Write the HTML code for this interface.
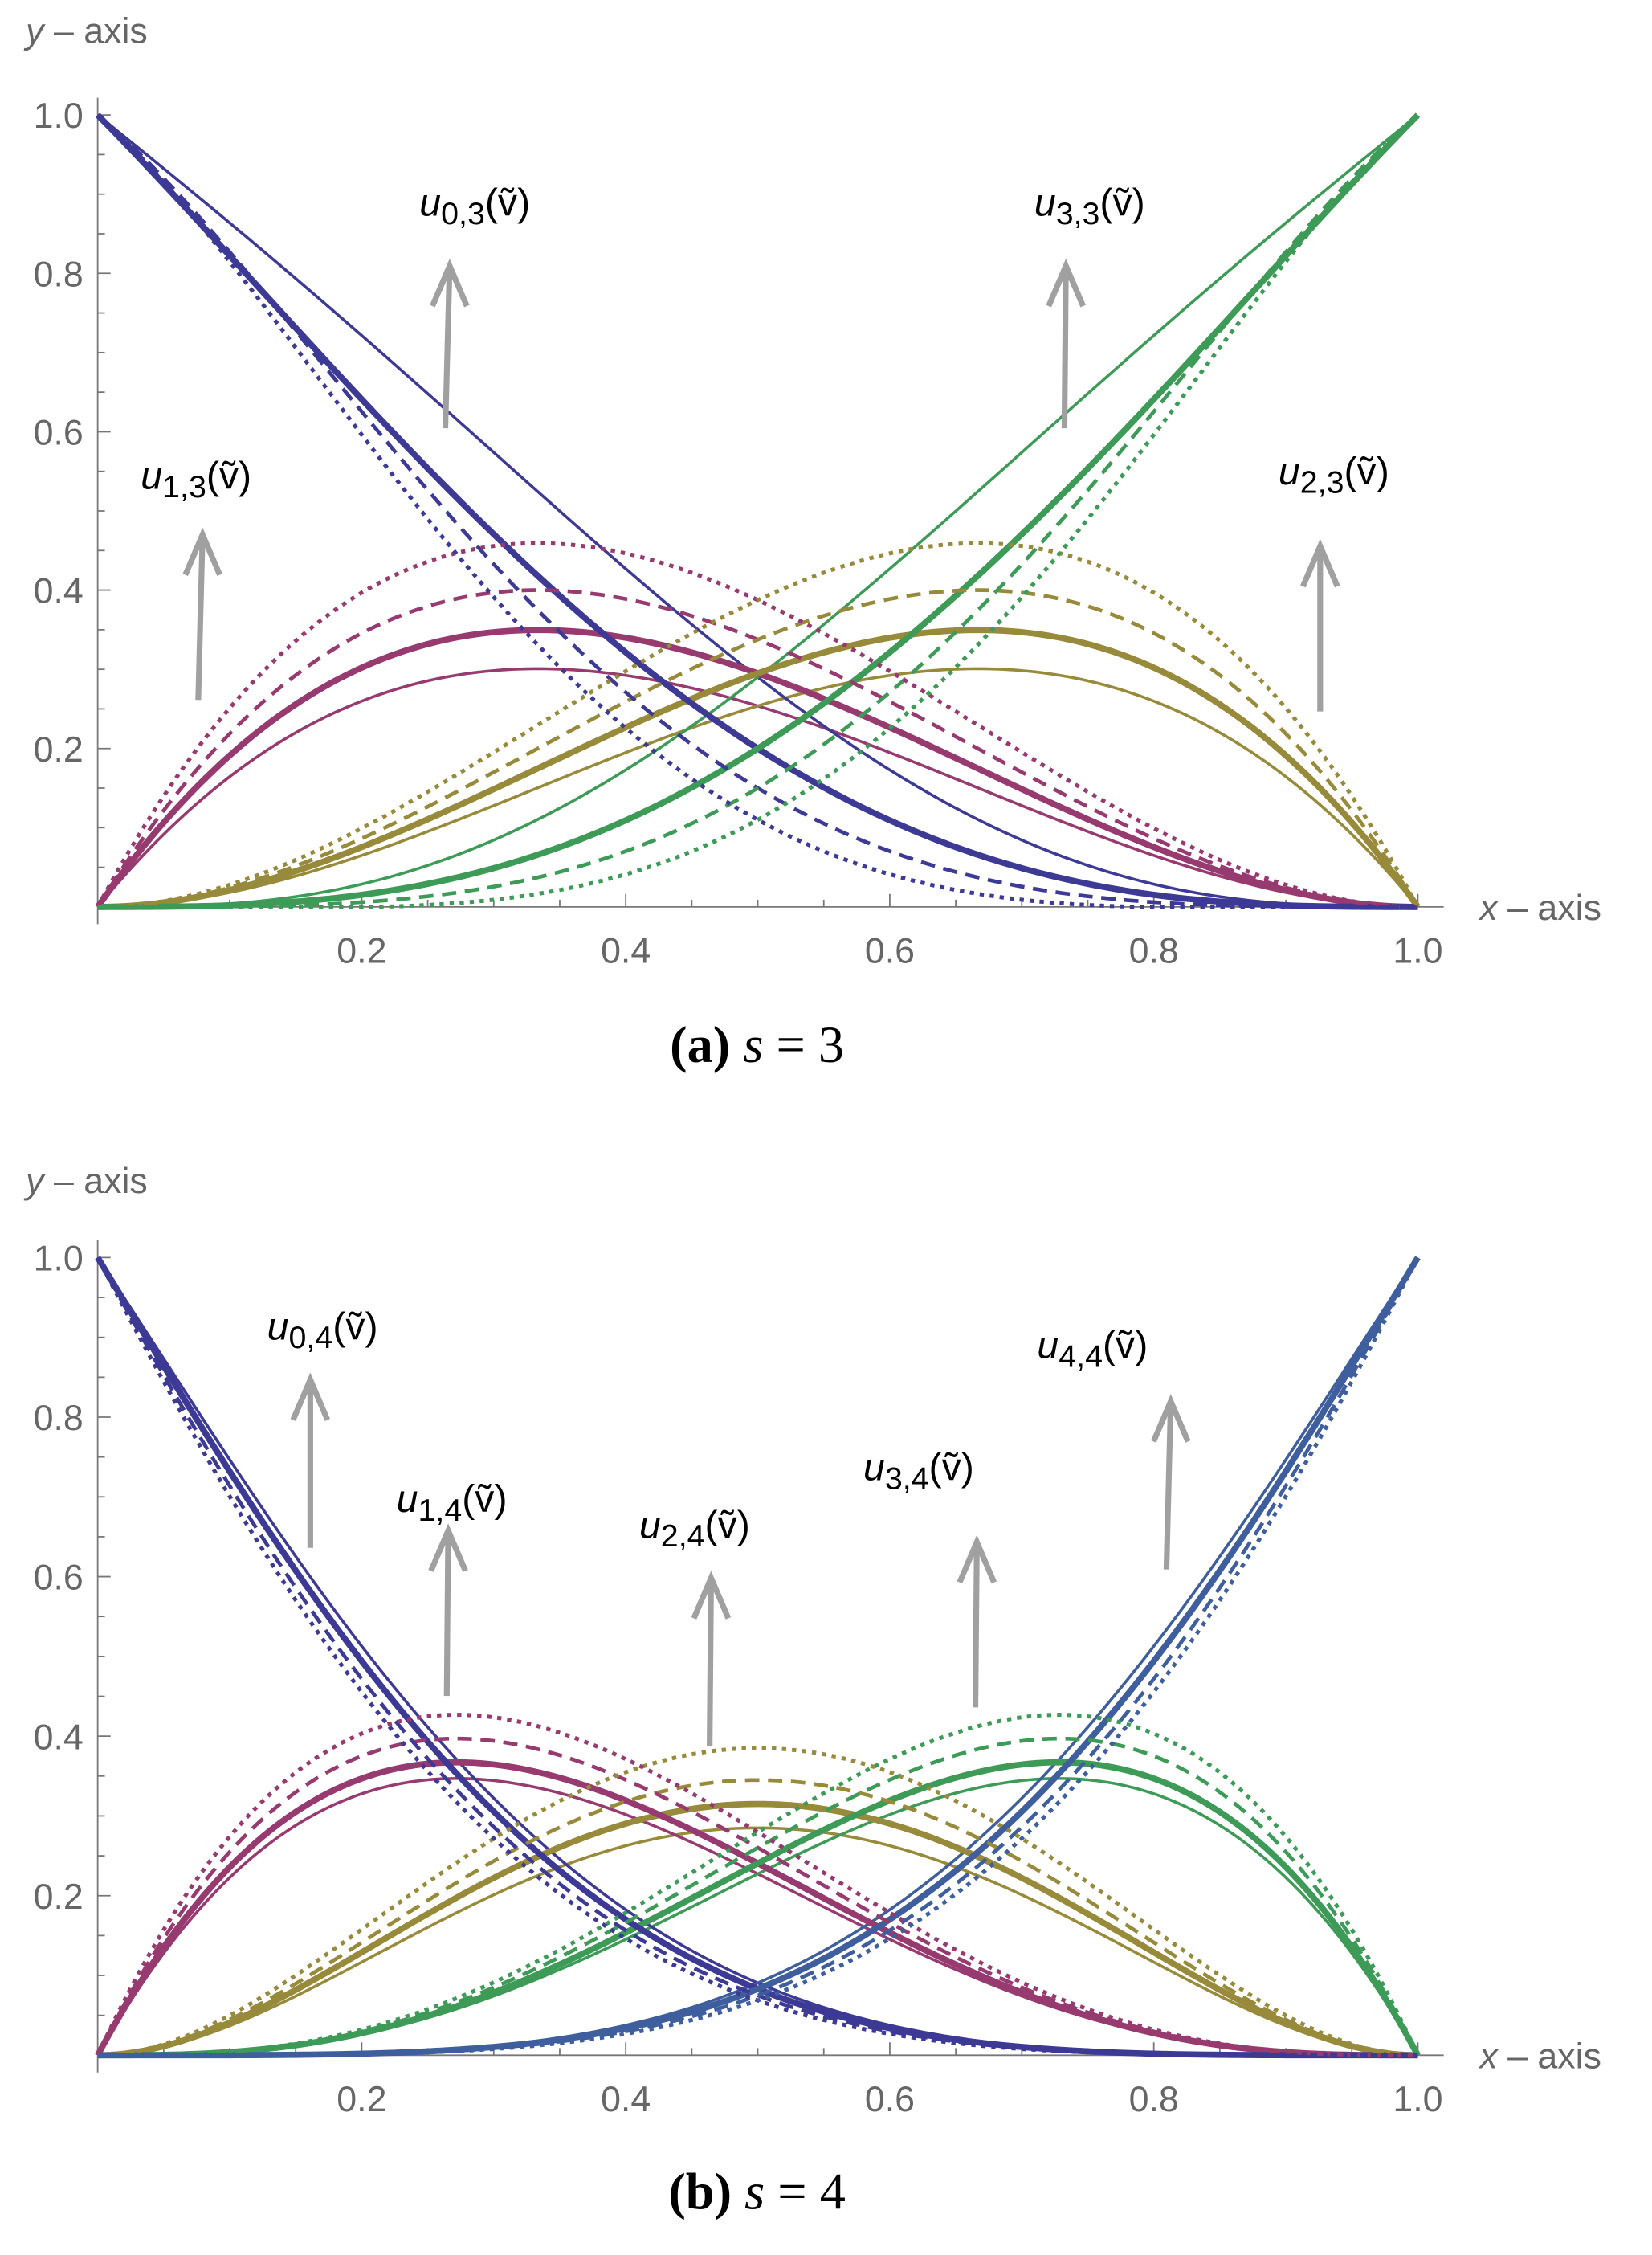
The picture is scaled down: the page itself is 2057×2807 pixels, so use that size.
<!DOCTYPE html>
<html><head><meta charset="utf-8"><style>
html,body{margin:0;padding:0;background:#fff;}
svg{display:block;}
.tl{font-family:"Liberation Sans",sans-serif;font-size:25px;fill:#666;}
.an{font-family:"Liberation Sans",sans-serif;font-size:27px;fill:#000;}
.cap{font-family:"Liberation Serif",serif;font-size:36px;fill:#000;}
</style></head><body>
<svg id="s" width="2057" height="2807" viewBox="0 0 1150 1569" preserveAspectRatio="none" xmlns="http://www.w3.org/2000/svg">
<g id="g"></g>
<text class="tl" x="18" y="30"><tspan font-style="italic">y</tspan> – axis</text>
<text class="tl" x="1030" y="640"><tspan font-style="italic">x</tspan> – axis</text>
<text class="tl" x="18" y="830"><tspan font-style="italic">y</tspan> – axis</text>
<text class="tl" x="1030" y="1439"><tspan font-style="italic">x</tspan> – axis</text>
<text class="cap" x="527" y="739" text-anchor="middle"><tspan font-weight="bold">(a)</tspan> <tspan font-style="italic">s</tspan> = 3</text>
<text class="cap" x="527" y="1537" text-anchor="middle"><tspan font-weight="bold">(b)</tspan> <tspan font-style="italic">s</tspan> = 4</text>
</svg>
<script>
var g=document.getElementById('g'),NS='http://www.w3.org/2000/svg';
function el(t,a,txt){var e=document.createElementNS(NS,t);for(var k in a)e.setAttribute(k,a[k]);if(txt!==undefined)e.textContent=txt;g.appendChild(e);return e;}
var X0=68,X1=987;
function axes(Y0,Y1){
 el('line',{x1:X0,y1:Y0,x2:1005,y2:Y0,stroke:'#777','stroke-width':1});
 el('line',{x1:X0,y1:Y0+12,x2:X0,y2:Y1-12,stroke:'#777','stroke-width':1});
 for(var i=1;i<=20;i++){var x=X0+(X1-X0)*i/20,L=(i%4==0)?9:5;el('line',{x1:x,y1:Y0,x2:x,y2:Y0-L,stroke:'#777','stroke-width':1});}
 for(var i=1;i<=20;i++){var y=Y0-(Y0-Y1)*i/20,L=(i%4==0)?9:5;el('line',{x1:X0,y1:y,x2:X0+L,y2:y,stroke:'#777','stroke-width':1});}
 for(var i=1;i<=5;i++){var v=(i*0.2).toFixed(1);
  el('text',{'class':'tl',x:X0+(X1-X0)*i/5,y:Y0+39,'text-anchor':'middle'},v);
  el('text',{'class':'tl',x:58,y:Y0-(Y0-Y1)*i/5+9,'text-anchor':'end'},v);}
}
var styles=[{w:2,d:''},{w:4.3,d:''},{w:2.6,d:'10 6'},{w:2.8,d:'3 4'}];
function curve(f,Y0,Y1,col,st){
 var p='';for(var i=0;i<=200;i++){var x=i/200,y=Math.max(0,f(x));p+=(i?'L':'M')+(X0+(X1-X0)*x).toFixed(2)+' '+(Y0-(Y0-Y1)*y).toFixed(2);}
 el('path',{d:p,fill:'none',stroke:col,'stroke-width':st.w,'stroke-dasharray':st.d});
}
function arrow(x1,y1,x2,y2){
 el('line',{x1:x1,y1:y1,x2:x2,y2:y2,stroke:'#a0a0a0','stroke-width':4});
 el('polyline',{points:(x2-12)+','+(y2+28)+' '+x2+','+y2+' '+(x2+12)+','+(y2+28),fill:'none',stroke:'#a0a0a0','stroke-width':4});
}
function lab(x,y,i,s){el('text',{'class':'an',x:x,y:y},'').innerHTML='<tspan font-style="italic">u</tspan><tspan font-size="22" dy="6">'+i+','+s+'</tspan><tspan dy="-6">(ṽ)</tspan>';}
var B='#3d3a96',M='#973a6f',O='#978a3a',G='#3d9a57',SB='#3e5e9e';
// top
var T0=631,T1=80;axes(T0,T1);
var c3=[[1.65,1.98],[1.3,-0.2],[1.58,-2.36],[1.53,-3.54]],k1=[2.03,2.36,2.7,3.1];
function u0t(c,d){return function(x){var t=1-x;return t*t*t*(1+c*x+d*x*x);};}
for(var j=0;j<4;j++){(function(c,k,st){
 curve(function(x){return x*k*(1-x)*(1-x);},T0,T1,M,st);
 curve(function(x){var t=1-x;return t*k*x*x;},T0,T1,O,st);
 var f=u0t(c[0],c[1]);
 curve(f,T0,T1,B,st);
 curve(function(x){return f(1-x);},T0,T1,G,st);
})(c3[j],k1[j],styles[j]);}
arrow(310,298,313,185);arrow(138,487,141,372);arrow(741,298,742,185);arrow(919,495,919,380);
lab(292,150,0,3);lab(98,340,1,3);lab(720,150,3,3);lab(890,337,2,3);
// bottom
var B0=1430,B1=875;axes(B0,B1);
var c4=[[1.5,-1.2],[1.28,-1.24],[1.0,-1.2],[0.8,-1.2]],k4=[2.91,3.08,3.33,3.58],k2=[4.56,5.04,5.52,6.16];
for(var j=0;j<4;j++){(function(c,k,kk,st){
 curve(function(x){return kk*x*x*(1-x)*(1-x);},B0,B1,O,st);
 var m=function(x){return k*x*Math.pow(1-x,3)*(1+0.5*x);};
 curve(m,B0,B1,M,st);
 curve(function(x){return m(1-x);},B0,B1,G,st);
 var f=function(x){return Math.pow(1-x,4)*(1+c[0]*x+c[1]*x*x);};
 curve(f,B0,B1,B,st);
 curve(function(x){return f(1-x);},B0,B1,SB,st);
})(c4[j],k4[j],k2[j],styles[j]);}
arrow(216,1077,216,960);arrow(311,1180,312,1065);arrow(494,1215,495,1098);arrow(679,1188,680,1073);arrow(812,1092,815,975);
lab(186,932,0,4);lab(276,1052,1,4);lab(445,1070,2,4);lab(601,1030,3,4);lab(722,945,4,4);
</script>
</body></html>
